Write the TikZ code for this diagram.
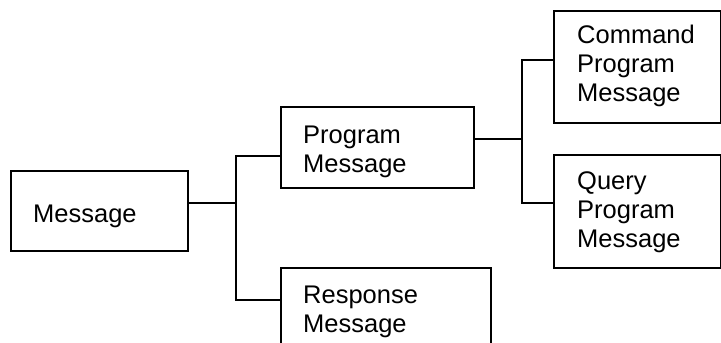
\documentclass[tikz,border=0pt]{standalone}
\usepackage{fontspec}
\setmainfont{Liberation Sans}
\begin{document}
\begin{tikzpicture}[x=1pt,y=-1pt,
  box/.style={draw,line width=2pt,anchor=north west,inner sep=0pt},
  lbl/.style={anchor=base west,inner sep=0pt,align=left,font=\fontsize{25.5}{29}\selectfont},
  conn/.style={line width=2pt}]
\useasboundingbox (0,0) rectangle (721,343);
% boxes
\node[box,minimum width=177pt,minimum height=80pt] (msg) at (10,170) {};
\node[box,minimum width=193pt,minimum height=81pt] (prog) at (280,106) {};
\node[box,minimum width=210pt,minimum height=90pt] (resp) at (280,267) {};
\node[box,minimum width=167pt,minimum height=112pt] (cmd) at (553,10) {};
\node[box,minimum width=167pt,minimum height=113pt] (qry) at (553,154) {};
% labels (anchor = baseline of last line)
\node[lbl] (tmsg) at (33,222) {Message};
\node[lbl] (tprog) at (303,172) {Program\\Message};
\node[lbl] (tresp) at (303,332) {Response\\Message};
\node[lbl] (tcmd) at (577,101) {Command\\Program\\Message};
\node[lbl] (tqry) at (577,247) {Query\\Program\\Message};
% junctions
\coordinate (j1) at (236,203);
\coordinate (j2) at (522,139);
% connectors
\draw[conn] (msg.east |- j1) -- (j1);
\draw[conn] (prog.west |- 0,156) -| (j1) |- (resp.west |- 0,300);
\draw[conn] (prog.east |- j2) -- (j2);
\draw[conn] (cmd.west |- 0,60) -| (j2) |- (qry.west |- 0,203);
\end{tikzpicture}
\end{document}
